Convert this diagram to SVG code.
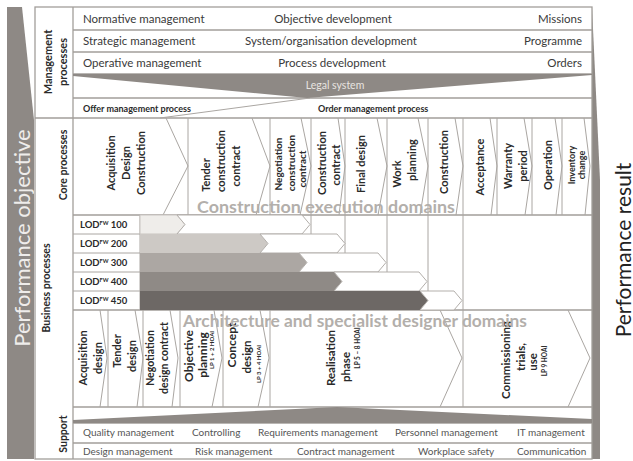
<svg xmlns="http://www.w3.org/2000/svg" width="633" height="461" viewBox="0 0 633 461">
<style>
text{font-family:Lato,"Liberation Sans",sans-serif;fill:#333}
.r{font-size:11.5px;fill:#3a3a3a}
.op{font-size:9px;font-weight:bold;fill:#2a2a2a}
.ln{stroke:#a29e9a;stroke-width:1.3;fill:none}
.thin{stroke:#aaa6a2;stroke-width:1;fill:none}
.band{fill:#8e8985}
.v{text-anchor:middle;dominant-baseline:central;font-weight:bold;font-size:11px;fill:#2a2a2a}
.s{font-size:10px}
.xs{font-size:6px;font-weight:bold}
.lod{font-size:9.5px;font-weight:bold;fill:#2a2a2a}
.sup{font-size:10px;fill:#555}
.big{font-size:17px;font-weight:bold;fill:#b3afab}
.wa{fill:#fff;stroke:#b3afab;stroke-width:1}
</style>
<rect width="633" height="461" fill="#fff"/>

<g id="performance-objective">
<polygon class="band" points="7,7 22,7 34,120 34,459 7,459"/>
<text transform="translate(21,238) rotate(-90)" text-anchor="middle" dominant-baseline="central" style="font-size:22px;fill:#efedeb">Performance objective</text>
</g>

<g id="performance-result">
<polygon class="band" points="592,7 600,180 600,459 592,459"/>
<text transform="translate(622,250) rotate(-90)" text-anchor="middle" dominant-baseline="central" style="font-size:21px;fill:#222">Performance result</text>
</g>

<g id="grid">
<rect x="35" y="7" width="557" height="452" class="ln"/>
<line class="ln" x1="73" y1="7" x2="73" y2="459"/>
<line class="ln" x1="73" y1="30" x2="592" y2="30"/>
<line class="ln" x1="73" y1="52" x2="592" y2="52"/>
<line class="ln" x1="73" y1="74" x2="592" y2="74"/>
<line class="ln" x1="73" y1="98" x2="592" y2="98"/>
<line class="ln" x1="35" y1="118" x2="592" y2="118"/>
<line class="thin" x1="160" y1="118" x2="310" y2="98"/>
<line class="ln" x1="73" y1="215" x2="592" y2="215"/>
<line class="ln" x1="73" y1="310" x2="592" y2="310"/>
<line class="ln" x1="73" y1="407" x2="592" y2="407"/>
<line class="ln" x1="73" y1="423" x2="592" y2="423"/>
<line class="ln" x1="73" y1="443" x2="592" y2="443"/>
</g>

<g id="management">
<polygon class="band" points="73,74 592,74 592,75 307,98 73,76"/>
<text class="r" x="83" y="23">Normative management</text>
<text class="r" x="333" y="23" text-anchor="middle">Objective development</text>
<text class="r" x="582" y="23" text-anchor="end">Missions</text>
<text class="r" x="83" y="45">Strategic management</text>
<text class="r" x="331" y="45" text-anchor="middle">System/organisation development</text>
<text class="r" x="582" y="45" text-anchor="end">Programme</text>
<text class="r" x="83" y="67">Operative management</text>
<text class="r" x="332" y="67" text-anchor="middle">Process development</text>
<text class="r" x="582" y="67" text-anchor="end">Orders</text>
<text x="335" y="89" text-anchor="middle" style="font-size:10.5px;fill:#e8e4e0">Legal system</text>
<text class="op" x="83" y="112">Offer management process</text>
<text class="op" x="318" y="112">Order management process</text>
<text class="v" transform="translate(47,62) rotate(-90)">Management</text>
<text class="v" transform="translate(62,62) rotate(-90)">processes</text>
</g>

<g id="labels">
<text class="v" transform="translate(46,288) rotate(-90)" style="font-size:10.5px">Business processes</text>
<text class="v" transform="translate(63,165) rotate(-90)" style="font-size:10.5px">Core processes</text>
<text class="v" transform="translate(63,434) rotate(-90)" style="font-size:10.5px">Support</text>
</g>

<g id="connectors">
<g class="thin">
<line x1="188" y1="118" x2="188" y2="310"/>
<line x1="270" y1="118" x2="270" y2="310"/>
<line x1="311" y1="118" x2="311" y2="310"/>
<line x1="345" y1="118" x2="345" y2="310"/>
<line x1="387" y1="118" x2="387" y2="310"/>
<line x1="428" y1="118" x2="428" y2="310"/>
<line x1="463" y1="118" x2="463" y2="407"/>
<line x1="497" y1="118" x2="497" y2="215"/>
<line x1="532" y1="118" x2="532" y2="215"/>
<line x1="562" y1="118" x2="562" y2="215"/>
<polyline points="166,118 188,166 163,215"/>
<polyline points="252,118 270,166 256,215"/>
<polyline points="301,118 311,166 300,215"/>
<polyline points="338,118 345,166 339,215"/>
<polyline points="377,118 387,166 378,215"/>
<polyline points="418,118 428,166 420,215"/>
<polyline points="455,118 463,166 456,215"/>
<polyline points="490,118 497,166 491,215"/>
<polyline points="524,118 532,166 525,215"/>
<polyline points="555,118 562,166 556,215"/>
<polyline points="584,118 590,166 585,215"/>
<line x1="140" y1="215" x2="140" y2="310"/>
<line x1="73" y1="234" x2="140" y2="234"/>
<line x1="73" y1="253" x2="140" y2="253"/>
<line x1="73" y1="272" x2="140" y2="272"/>
<line x1="73" y1="291" x2="140" y2="291"/>
<line x1="108" y1="310" x2="108" y2="407"/>
<line x1="143" y1="310" x2="143" y2="407"/>
<line x1="180" y1="310" x2="180" y2="407"/>
<line x1="223" y1="310" x2="223" y2="407"/>
<line x1="270" y1="310" x2="270" y2="407"/>
<polyline points="100,310 107,358 100,407"/>
<polyline points="135,310 143,358 137,407"/>
<polyline points="170,310 178,358 172,407"/>
<polyline points="214,310 222,358 212,407"/>
<polyline points="260,310 269,358 258,407"/>
<polyline points="440,310 462,358 440,407"/>
<polyline points="568,310 590,358 568,407"/>
</g>
</g>

<g id="core-processes">
<text class="v" transform="translate(110,163) rotate(-90)">Acquisition</text>
<text class="v" transform="translate(125,163) rotate(-90)">Design</text>
<text class="v" transform="translate(140,163) rotate(-90)">Construction</text>
<text class="v" transform="translate(205,175) rotate(-90)">Tender</text>
<text class="v" transform="translate(220,161) rotate(-90)">construction</text>
<text class="v" transform="translate(235,166) rotate(-90)">contract</text>
<text class="v s" transform="translate(278,164) rotate(-90)">Negotiation</text>
<text class="v s" transform="translate(291,163) rotate(-90)">construction</text>
<text class="v s" transform="translate(302,169) rotate(-90)">contract</text>
<text class="v" transform="translate(321,163) rotate(-90)">Construction</text>
<text class="v" transform="translate(335,165) rotate(-90)">contract</text>
<text class="v" transform="translate(360,164) rotate(-90)">Final design</text>
<text class="v" transform="translate(396,174) rotate(-90)">Work</text>
<text class="v" transform="translate(411,160) rotate(-90)">planning</text>
<text class="v" transform="translate(443,162) rotate(-90)">Construction</text>
<text class="v" transform="translate(479,167) rotate(-90)">Acceptance</text>
<text class="v" transform="translate(507,166) rotate(-90)">Warranty</text>
<text class="v" transform="translate(522,166) rotate(-90)">period</text>
<text class="v" transform="translate(547,165) rotate(-90)">Operation</text>
<text class="v" transform="translate(571,165) rotate(-90)" style="font-size:9px">Inventory</text>
<text class="v" transform="translate(581,165) rotate(-90)" style="font-size:9px">change</text>
<text class="big" x="197" y="213" textLength="258" lengthAdjust="spacingAndGlyphs">Construction execution domains</text>
</g>

<g id="lod">
<polygon points="140,215 177,215 185,224.5 177,234 140,234" fill="#efedea" stroke="#c9c5c1"/>
<polygon class="wa" points="177,215 302,215 310,224.5 302,234 177,234 185,224.5"/>
<polygon points="140,234 260,234 268,243.5 260,253 140,253" fill="#cdc9c5"/>
<polygon class="wa" points="260,234 337,234 345,243.5 337,253 260,253 268,243.5"/>
<polygon points="140,253 299,253 307,262.5 299,272 140,272" fill="#aca7a3"/>
<polygon class="wa" points="299,253 378,253 386,262.5 378,272 299,272 307,262.5"/>
<polygon points="140,272 334,272 342,281.5 334,291 140,291" fill="#8f8a86"/>
<polygon class="wa" points="334,272 419,272 427,281.5 419,291 334,291 342,281.5"/>
<polygon points="140,291 420,291 428,300.5 420,310 140,310" fill="#6d6865"/>
<polygon class="wa" points="420,291 454,291 462,300.5 454,310 420,310 428,300.5"/>
<text class="lod" x="80" y="228">LOD<tspan font-size="5.5" dy="-3.5">FW</tspan><tspan dy="3.5"> 100</tspan></text>
<text class="lod" x="80" y="247">LOD<tspan font-size="5.5" dy="-3.5">FW</tspan><tspan dy="3.5"> 200</tspan></text>
<text class="lod" x="80" y="266">LOD<tspan font-size="5.5" dy="-3.5">FW</tspan><tspan dy="3.5"> 300</tspan></text>
<text class="lod" x="80" y="285">LOD<tspan font-size="5.5" dy="-3.5">FW</tspan><tspan dy="3.5"> 400</tspan></text>
<text class="lod" x="80" y="304">LOD<tspan font-size="5.5" dy="-3.5">FW</tspan><tspan dy="3.5"> 450</tspan></text>
</g>

<g id="architecture">
<text class="v" transform="translate(82,358) rotate(-90)">Acquisition</text>
<text class="v" transform="translate(97,358) rotate(-90)">design</text>
<text class="v" transform="translate(116,351) rotate(-90)">Tender</text>
<text class="v" transform="translate(131,356) rotate(-90)">design</text>
<text class="v" transform="translate(150,358) rotate(-90)" style="font-size:10.5px">Negotiation</text>
<text class="v" transform="translate(164,358) rotate(-90)" style="font-size:10.5px">design contract</text>
<text class="v" transform="translate(188,356) rotate(-90)" style="font-size:12px">Objective</text>
<text class="v" transform="translate(202,355) rotate(-90)" style="font-size:12px">planning</text>
<text class="v xs" transform="translate(211,350) rotate(-90)">LP 1 + 2 HOAI</text>
<text class="v" transform="translate(231,345) rotate(-90)" style="font-size:12px">Concept</text>
<text class="v" transform="translate(246,357) rotate(-90)" style="font-size:11.5px">design</text>
<text class="v xs" transform="translate(258,364) rotate(-90)">LP 3 + 4 HOAI</text>
<text class="v" transform="translate(330,358) rotate(-90)" style="font-size:11.5px">Realisation</text>
<text class="v" transform="translate(345,367) rotate(-90)" style="font-size:11.5px">phase</text>
<text class="v xs" transform="translate(357,348) rotate(-90)" style="font-size:6.5px">LP 5 – 8 HOAI</text>
<text class="v" transform="translate(505,360) rotate(-90)" style="font-size:11.5px">Commissioning</text>
<text class="v" transform="translate(520,357) rotate(-90)" style="font-size:11.5px">trials,</text>
<text class="v" transform="translate(532,362) rotate(-90)" style="font-size:11.5px">use</text>
<text class="v xs" transform="translate(544,361) rotate(-90)" style="font-size:6.5px">LP 9 HOAI</text>
<text class="big" x="183" y="327" textLength="344" lengthAdjust="spacingAndGlyphs">Architecture and specialist designer domains</text>
</g>

<g id="support">
<polygon class="band" points="73,420 337,407 592,419 592,423 73,423"/>
<text class="sup" x="83" y="436">Quality management</text>
<text class="sup" x="192" y="436">Controlling</text>
<text class="sup" x="258" y="436">Requirements management</text>
<text class="sup" x="395" y="436">Personnel management</text>
<text class="sup" x="517" y="436">IT management</text>
<text class="sup" x="83" y="455">Design management</text>
<text class="sup" x="195" y="455">Risk management</text>
<text class="sup" x="297" y="455">Contract management</text>
<text class="sup" x="418" y="455">Workplace safety</text>
<text class="sup" x="517" y="455">Communication</text>
</g>
</svg>
